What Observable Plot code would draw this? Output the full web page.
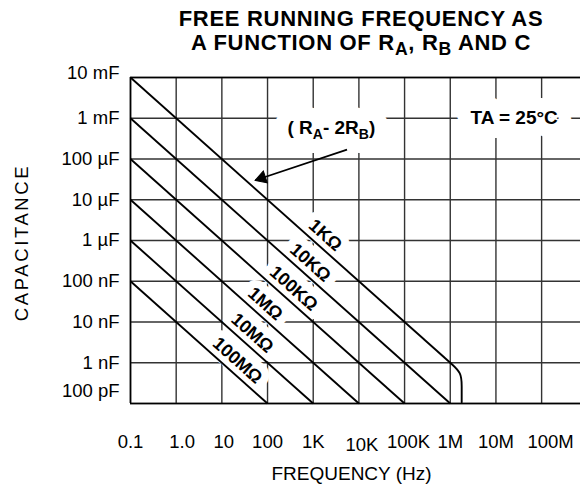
<!DOCTYPE html>
<html><head><meta charset="utf-8">
<script src="https://cdn.jsdelivr.net/npm/d3@7"></script>
<script src="https://cdn.jsdelivr.net/npm/@observablehq/plot@0.6"></script>
<style>
body{margin:0;background:#fff;font-family:"Liberation Sans",Arial,sans-serif;}
#wrap{width:584px;height:487px;position:relative;overflow:hidden;background:#fff}
#title{position:absolute;left:138px;width:446px;top:7px;text-align:center;font-weight:bold;font-size:22px;letter-spacing:0.7px;line-height:24px;color:#000}
#title sub{font-size:0.8em;vertical-align:-0.3em;line-height:0}
#chart{position:absolute;left:0;top:62px}
</style></head><body>
<div id="wrap"><div id="title">FREE RUNNING FREQUENCY AS<br>A FUNCTION OF R<sub>A</sub>, R<sub>B</sub> AND C</div><div id="chart"></div></div>
<script>
// ---- data ----
const freqTicks = [0.1, 1, 10, 100, 1e3, 1e4, 1e5, 1e6, 1e7, 1e8];
const freqLabels = ["0.1", "1.0", "10", "100", "1K", "10K", "100K", "1M", "10M", "100M"];
const capTicks = [1e-2, 1e-3, 1e-4, 1e-5, 1e-6, 1e-7, 1e-8, 1e-9, 1e-10];
const capLabels = ["10 mF", "1 mF", "100 µF", "10 µF", "1 µF", "100 nF", "10 nF", "1 nF", "100 pF"];
const resistances = ["1KΩ", "10KΩ", "100KΩ", "1MΩ", "10MΩ", "100MΩ"];
const lineStartF = [0.1, 0.1, 0.1, 0.1, 0.1, 0.1];
const lineStartC = [1e-2, 1e-3, 1e-4, 1e-5, 1e-6, 1e-7];
const lineEndF = [1e6, 1e6, 1e5, 1e4, 1e3, 1e2];
const lineEndC = [1e-9, 1e-10, 1e-10, 1e-10, 1e-10, 1e-10];
const labelF = [1230, 580, 250, 60, 31, 14.7];
const labelC = [8.1e-7, 1.72e-7, 4.0e-8, 1.67e-8, 3.2e-9, 6.8e-10];
const kneeF = [1e6, 1.78e6, 1.78e6, 1.78e6];
const kneeC = [1e-9, 5.6e-10, 2.7e-10, 1.08e-10];
const annotText = ["( RA- 2RB)", "TA = 25°C"];
const annotF = [2500, 2.5e7];
const annotC = [5.7e-4, 1.02e-3];
const arrowFromF = 5500, arrowFromC = 1.7e-4;
const arrowToF = 54, arrowToC = 3.0e-5;

// ---- layout / style ----
const xTickOffsets = [[0,0],[6,0],[2,0],[0,0],[0,0],[3,3],[4,0],[0,0],[0,0],[9,0]];
const yTickOffsets = [-4,0,0,0,0,0,0,0,-12];
const font = '"Liberation Sans", Arial, sans-serif';
const gridColor = "#333";

const lines = resistances.map((r, i) => ({r, f1: lineStartF[i], c1: lineStartC[i], f2: lineEndF[i], c2: lineEndC[i]}));
const labels = resistances.map((r, i) => ({r, f: labelF[i], c: labelC[i]}));
const knee = kneeF.map((f, i) => ({f, c: kneeC[i]}));
const annots = annotText.map((t, i) => ({t, f: annotF[i], c: annotC[i]}));
const arrow = [{f1: arrowFromF, c1: arrowFromC, f2: arrowToF, c2: arrowToC}];

const xAxes = freqTicks.map((t, i) => Plot.axisX([t], {
  tickFormat: () => freqLabels[i], tickSize: 0, tickPadding: 31,
  dx: xTickOffsets[i][0], dy: xTickOffsets[i][1], fontSize: 18.5, label: null
}));
const yAxes = capTicks.map((t, i) => Plot.axisY([t], {
  tickFormat: () => capLabels[i], tickSize: 0, tickPadding: 11,
  dy: yTickOffsets[i], fontSize: 18.5, label: null
}));

const plot = Plot.plot({
  width: 584, height: 425,
  marginLeft: 130, marginRight: 4, marginTop: 15, marginBottom: 84,
  x: {type: "log", domain: [0.1, 7.1e8]},
  y: {type: "log", domain: [1e-10, 1e-2]},
  style: {fontFamily: font, color: "#000", background: "#fff", overflow: "visible"},
  marks: [
    Plot.ruleX(freqTicks, {stroke: gridColor, strokeWidth: 1.4}),
    Plot.ruleY(capTicks, {stroke: gridColor, strokeWidth: 1.4}),
    Plot.ruleX([0.1], {stroke: "#000", strokeWidth: 1.6}),
    Plot.ruleY([1e-2, 1e-10], {stroke: "#000", strokeWidth: 1.6}),
    // knock-out halos (label backgrounds)
    Plot.text(labels, {x: "f", y: "c", text: "r", rotate: 41.7, dx: 8, dy: -9, fontWeight: "bold", fontSize: 18, fill: "white", stroke: "white", strokeWidth: 16}),
    Plot.text(annots, {x: "f", y: "c", text: "t", fontWeight: "bold", fontSize: 19, fill: "white", stroke: "white", strokeWidth: 28}),
    // resistance lines
    Plot.link(lines, {x1: "f1", y1: "c1", x2: "f2", y2: "c2", stroke: "#000", strokeWidth: 1.9}),
    Plot.line(knee, {x: "f", y: "c", curve: "basis", stroke: "#000", strokeWidth: 1.9}),
    // arrow
    Plot.link(arrow, {x1: "f1", y1: "c1", x2: "f2", y2: "c2", stroke: "#000", strokeWidth: 1.7}),
    Plot.dot(arrow, {x: "f2", y: "c2", symbol: "triangle", r: 4.6, rotate: -108.5, dx: 6.6, dy: -2.2, fill: "#000", stroke: "#000", strokeWidth: 1}),
    // labels
    Plot.text(labels, {x: "f", y: "c", text: "r", rotate: 41.7, dx: 8, dy: -9, fontWeight: "bold", fontSize: 18, fill: "#000"}),
    Plot.text(annots, {x: "f", y: "c", text: "t", fontWeight: "bold", fontSize: 19, fill: "#000"}),
    ...xAxes,
    ...yAxes,
    Plot.text(["FREQUENCY (Hz)"], {frameAnchor: "bottom", textAnchor: "middle", lineAnchor: "middle", dy: 70, dx: -4, fontSize: 19}),
    Plot.text(["CAPACITANCE"], {frameAnchor: "left", textAnchor: "middle", lineAnchor: "middle", dx: -108, dy: 2, rotate: -90, fontSize: 18.5})
  ]
});

// subscripts in the (RA- 2RB) annotation
d3.select(plot).selectAll("text").filter(function() { return this.textContent === "( RA- 2RB)"; })
  .each(function() {
    const t = d3.select(this);
    t.text("");
    t.append("tspan").text("( R");
    t.append("tspan").attr("dy", 5).attr("font-size", 14).text("A");
    t.append("tspan").attr("dy", -5).text("- 2R");
    t.append("tspan").attr("dy", 5).attr("font-size", 14).text("B");
    t.append("tspan").attr("dy", -5).text(")");
  });
// wider tracking for the y-axis title
d3.select(plot).selectAll("text").filter(function() { return this.textContent === "CAPACITANCE"; })
  .style("letter-spacing", "2.6px");

document.getElementById("chart").appendChild(plot);
</script>
</body></html>
